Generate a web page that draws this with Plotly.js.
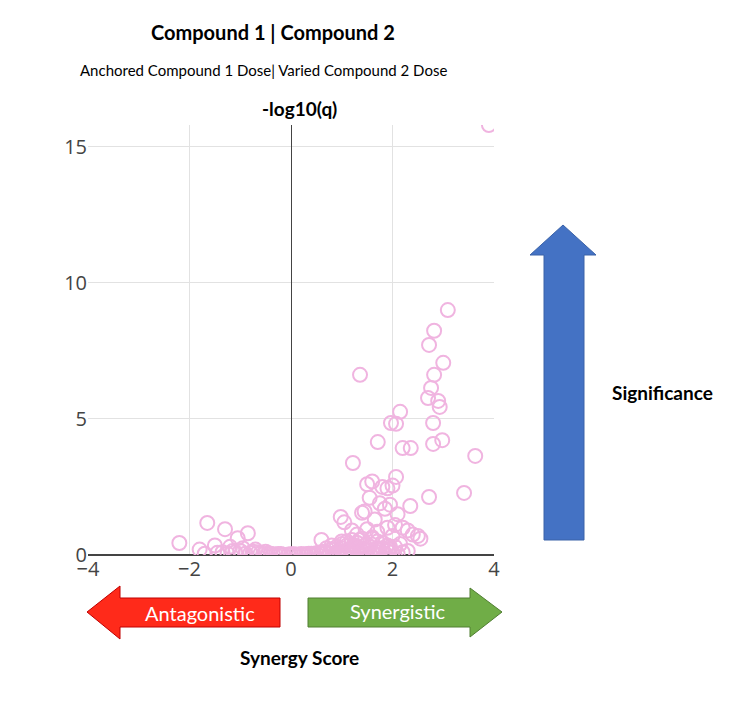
<!DOCTYPE html>
<html>
<head>
<meta charset="utf-8">
<script src="https://cdn.plot.ly/plotly-3.0.1.min.js"></script>
<style>body{margin:0;background:#fff}#chart{width:739px;height:708px}</style>
</head>
<body>
<div id="chart"></div>
<script>
// synergy score (x) and -log10(q) (y)
var synergy = [3.9, 3.09, 2.82, 2.72, 3.0, 1.36, 2.82, 2.76, 2.70, 2.9, 2.93, 2.15, 2.07, 2.8, 1.97,
  1.71, 2.2, 2.36, 2.8, 2.98, 3.63, 1.22, 2.07, 3.41, 2.72, 2.35,
  1.5, 1.6, 1.8, 1.55, 1.9, 2.0, 1.45, 1.75, 1.95, 2.1, 0.98, 1.05, 1.4, 1.65, 1.85, 2.05, 2.2, 2.3, 2.4, 2.5, 2.55,
  1.2, 1.3, 1.5, 1.7, 1.9, 2.0, 1.1, 1.35, 1.6, 1.8, 0.6, 0.8, 1.0, 1.25, 1.45, 1.7, 1.95, 2.15,
  -2.2, -1.65, -1.3, -1.05, -0.85, -1.8, -1.5, -1.2, -0.95, -0.7, -0.5,
  -1.7, -1.45, -1.1, -0.8, -0.6, -0.4, -0.2, 0.0, 0.2, 0.4, 0.5, 0.7, 0.9, 1.1, 1.3, 1.5, 1.7, 1.9,
  -1.0, -0.75, -0.3, 0.1, 0.3, 0.6, 0.85, 1.15, 1.4, 1.6, 1.8, 2.05,
  -1.35, -1.25, -1.15, -0.9, -0.65, -0.55, -0.45, -0.35, -0.25, -0.15, -0.05, 0.05, 0.15, 0.25, 0.35, 0.45,
  0.55, 0.65, 0.75, 0.8, 0.95, 1.0, 1.05, 1.2, 1.25, 1.35, 1.45, 1.55, 1.65, 1.75, 1.85, 1.95, 2.0,
  0.7, 0.9, 1.0, 1.1, 1.2, 1.3, 1.4, 1.5, 1.6, 1.7, 1.8, 0.95, 1.15, 1.35, 1.55, 1.75, 1.9,
  0.85, 1.05, 1.25, 1.45, 1.65, 1.85, 2.1, 2.2, 2.3];
var log10q = [15.8, 9.0, 8.24, 7.72, 7.06, 6.62, 6.62, 6.14, 5.77, 5.66, 5.44, 5.26, 4.82, 4.85, 4.85,
  4.15, 3.93, 3.93, 4.08, 4.22, 3.64, 3.38, 2.87, 2.28, 2.13, 1.8,
  2.6, 2.7, 2.5, 2.1, 2.45, 2.55, 1.6, 1.9, 1.85, 1.5, 1.4, 1.2, 1.55, 1.3, 1.7, 1.1, 1.0, 0.9, 0.75, 0.7, 0.6,
  0.9, 0.75, 0.95, 0.85, 1.0, 0.7, 0.5, 0.55, 0.6, 0.45, 0.55, 0.35, 0.4, 0.3, 0.35, 0.25, 0.3, 0.4,
  0.44, 1.18, 0.95, 0.62, 0.8, 0.2, 0.35, 0.3, 0.25, 0.2, 0.12,
  0.05, 0.08, 0.1, 0.08, 0.06, 0.05, 0.04, 0.03, 0.04, 0.05, 0.06, 0.08, 0.1, 0.12, 0.15, 0.18, 0.2, 0.15,
  0.15, 0.12, 0.02, 0.02, 0.03, 0.1, 0.2, 0.22, 0.15, 0.1, 0.25, 0.3,
  0.1, 0.05, 0.15, 0.05, 0.1, 0.03, 0.06, 0.02, 0.04, 0.01, 0.02, 0.03, 0.01, 0.02, 0.05, 0.03,
  0.08, 0.12, 0.05, 0.2, 0.1, 0.25, 0.05, 0.15, 0.35, 0.1, 0.2, 0.05, 0.15, 0.1, 0.05, 0.2, 0.1,
  0.25, 0.3, 0.5, 0.35, 0.55, 0.45, 0.6, 0.4, 0.65, 0.5, 0.45, 0.15, 0.2, 0.25, 0.3, 0.2, 0.35,
  0.02, 0.03, 0.03, 0.02, 0.03, 0.02, 0.05, 0.1, 0.15];

var L = 88, R = 494, T = 125, B = 555;
function px(x) { return (x - L) / (R - L); }
function py(y) { return (B - y) / (B - T); }
function path(pts) {
  return 'M' + pts.map(function(p) { return px(p[0]) + ',' + py(p[1]); }).join(' L') + ' Z';
}

var shapes = [
  {type: 'path', xref: 'paper', yref: 'paper', fillcolor: '#4472c4', line: {color: '#3a62a8', width: 1},
   path: path([[544, 540], [544, 255], [530, 255], [563, 225], [596, 255], [584, 255], [584, 540]])},
  {type: 'path', xref: 'paper', yref: 'paper', fillcolor: '#ff2a1a', line: {color: '#c00000', width: 1},
   path: path([[280, 598], [120, 598], [120, 586], [87, 612], [120, 639], [120, 627], [280, 627]])},
  {type: 'path', xref: 'paper', yref: 'paper', fillcolor: '#70ad47', line: {color: '#507e32', width: 1},
   path: path([[308, 598], [470, 598], [470, 588], [502, 612], [470, 637], [470, 627], [308, 627]])}
];

function txt(x, y, s, size, bold, color) {
  return {xref: 'paper', yref: 'paper', x: px(x), y: py(y), xanchor: 'center', yanchor: 'middle',
    showarrow: false, text: bold ? '<b>' + s + '</b>' : s,
    font: {family: 'Lato, Liberation Sans, Arial', size: size, color: color || '#000'}};
}

var annotations = [
  txt(273, 32, 'Compound 1 | Compound 2', 20, true),
  txt(263, 70, 'Anchored Compound 1 Dose| Varied Compound 2 Dose', 15, false),
  txt(299, 108, '-log10(q)', 19, true),
  txt(662, 392, 'Significance', 19, true),
  txt(200, 613, 'Antagonistic', 20, false, '#fff'),
  txt(398, 611, 'Synergistic', 20, false, '#fff'),
  txt(299, 657, 'Synergy Score', 19, true)
];

var trace = {
  x: synergy, y: log10q, type: 'scatter', mode: 'markers',
  marker: {symbol: 'circle-open', size: 14, color: '#f0b4e0', line: {width: 2}}
};

var layout = {
  width: 739, height: 708,
  margin: {l: L, r: 739 - R, t: T, b: 708 - B},
  showlegend: false,
  paper_bgcolor: '#fff', plot_bgcolor: '#fff',
  xaxis: {range: [-4, 4], dtick: 2, zeroline: true, zerolinecolor: '#444', zerolinewidth: 1,
    gridcolor: '#e2e2e2', tickfont: {size: 20, color: '#444'}, showline: false},
  yaxis: {range: [0, 15.8], dtick: 5, zeroline: true, zerolinecolor: '#444', zerolinewidth: 2,
    gridcolor: '#e2e2e2', tickfont: {size: 20, color: '#444'}},
  shapes: shapes,
  annotations: annotations
};

Plotly.newPlot('chart', [trace], layout, {displayModeBar: false});
</script>
</body>
</html>
